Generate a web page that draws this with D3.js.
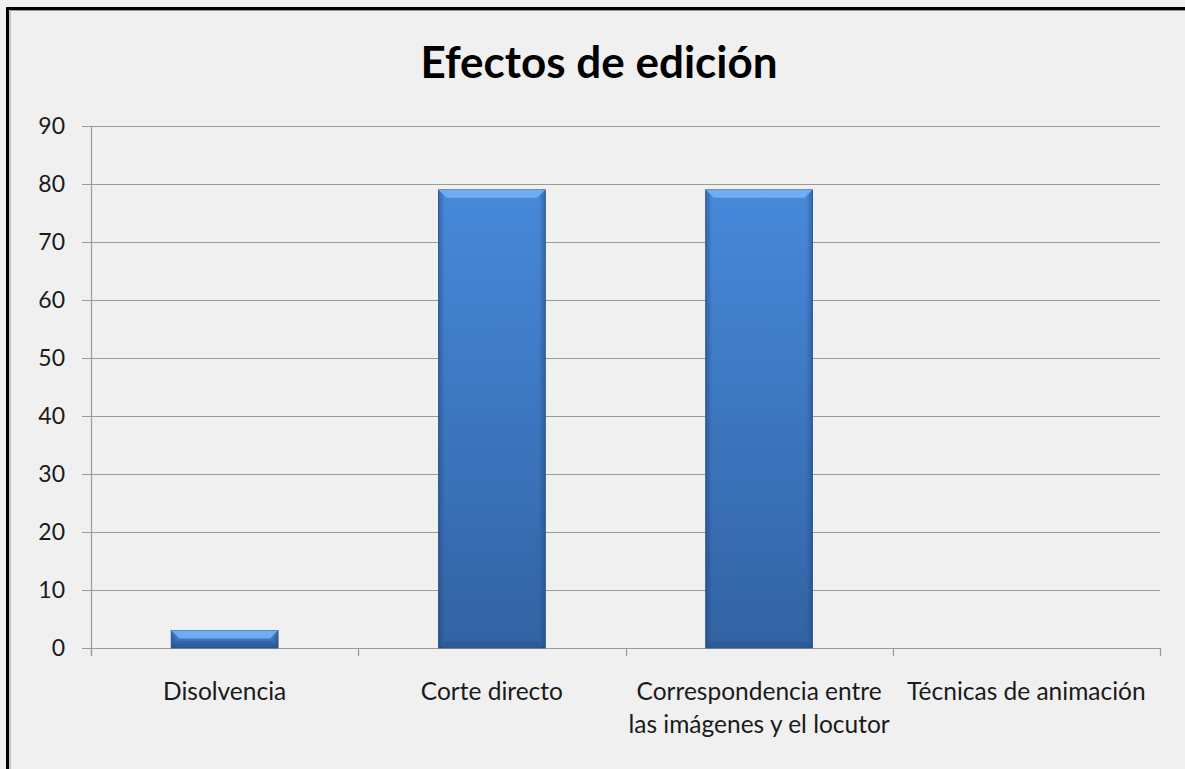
<!DOCTYPE html>
<html lang="es">
<head>
<meta charset="UTF-8">
<title>Efectos de edición</title>
<script src="https://d3js.org/d3.v7.min.js"></script>
<style>
  body {
    margin: 0;
    background: #f0f0f0;
    overflow: hidden;
  }
  svg text {
    font-family: Lato, "Open Sans", sans-serif;
    fill: #1a1a1a;
  }
</style>
</head>
<body>
<div id="chart"></div>
<script>
// ------ datos ------
const categories = [
  ["Disolvencia"],
  ["Corte directo"],
  ["Correspondencia entre", "las imágenes y el locutor"],
  ["Técnicas de animación"]
];
const values = [3, 79, 79, 0];
const yTicks = [0, 10, 20, 30, 40, 50, 60, 70, 80, 90];
const title = "Efectos de edición";

const width = 1185, height = 769;
const margin = {left: 91, right: 25, top: 126, bottom: 121};

const svg = d3.select("#chart").append("svg")
    .attr("width", width)
    .attr("height", height);

// marco
svg.append("rect")
    .attr("x", 7.5).attr("y", 8.5)
    .attr("width", width + 10).attr("height", height + 10)
    .attr("fill", "#f0f0f0")
    .attr("stroke", "#000")
    .attr("stroke-width", 3);
svg.append("path")
    .attr("d", `M10,${height} V10.5 H${width}`)
    .attr("fill", "none")
    .attr("stroke", "#999")
    .attr("stroke-width", 1);

// gradientes
const defs = svg.append("defs");
const g1 = defs.append("linearGradient").attr("id", "barFill")
    .attr("x1", 0).attr("y1", 0).attr("x2", 0).attr("y2", 1);
g1.append("stop").attr("offset", "0%").attr("stop-color", "#4789da");
g1.append("stop").attr("offset", "100%").attr("stop-color", "#3263a4");

const gSide = defs.append("linearGradient").attr("id", "sideShade")
    .attr("x1", 0).attr("y1", 0).attr("x2", 1).attr("y2", 0);
gSide.append("stop").attr("offset", "0%").attr("stop-color", "#1d3f70").attr("stop-opacity", 0.45);
gSide.append("stop").attr("offset", "6%").attr("stop-color", "#1d3f70").attr("stop-opacity", 0);
gSide.append("stop").attr("offset", "94%").attr("stop-color", "#1d3f70").attr("stop-opacity", 0);
gSide.append("stop").attr("offset", "100%").attr("stop-color", "#1d3f70").attr("stop-opacity", 0.45);

const x = d3.scaleBand()
    .domain(d3.range(categories.length))
    .range([margin.left, width - margin.right])
    .paddingInner(0.6)
    .paddingOuter(0.3);

const xEdge = d3.scaleLinear()
    .domain([0, categories.length])
    .range([margin.left, width - margin.right]);

const y = d3.scaleLinear()
    .domain([0, 90])
    .range([height - margin.bottom, margin.top]);

// cuadrícula
svg.append("g")
  .selectAll("line")
  .data(yTicks)
  .join("line")
    .attr("x1", margin.left - 9)
    .attr("x2", width - margin.right)
    .attr("y1", d => Math.round(y(d)) + 0.5)
    .attr("y2", d => Math.round(y(d)) + 0.5)
    .attr("stroke", "#9a9a9a")
    .attr("stroke-width", 1.2);

// eje y
svg.append("line")
    .attr("x1", margin.left + 0.5).attr("x2", margin.left + 0.5)
    .attr("y1", y(90)).attr("y2", y(0) + 8)
    .attr("stroke", "#9a9a9a").attr("stroke-width", 1.2);

svg.append("g")
  .selectAll("text")
  .data(yTicks)
  .join("text")
    .attr("x", margin.left - 26)
    .attr("y", d => y(d))
    .attr("dy", "0.36em")
    .attr("text-anchor", "end")
    .style("font-size", "23px")
    .text(d => d);

// marcas del eje x
svg.append("g")
  .selectAll("line")
  .data(d3.range(categories.length + 1))
  .join("line")
    .attr("x1", d => Math.round(xEdge(d)) + 0.5)
    .attr("x2", d => Math.round(xEdge(d)) + 0.5)
    .attr("y1", y(0))
    .attr("y2", y(0) + 8)
    .attr("stroke", "#9a9a9a").attr("stroke-width", 1.2);

// barras
const bars = svg.append("g")
  .selectAll("g")
  .data(values.map((v, i) => ({v, i})).filter(d => d.v > 0))
  .join("g");

bars.append("rect")
    .attr("x", d => x(d.i))
    .attr("y", d => y(d.v))
    .attr("width", x.bandwidth())
    .attr("height", d => y(0) - y(d.v))
    .attr("fill", "url(#barFill)")
    .attr("stroke", "#2b558e")
    .attr("stroke-width", 0.8);

bars.append("rect")
    .attr("x", d => x(d.i))
    .attr("y", d => y(d.v))
    .attr("width", x.bandwidth())
    .attr("height", d => y(0) - y(d.v))
    .attr("fill", "url(#sideShade)");

// bisel superior
bars.append("path")
    .attr("d", d => {
      const x0 = x(d.i), x1 = x0 + x.bandwidth(), t = y(d.v);
      const b = Math.min(8, (y(0) - t) / 2);
      return `M${x0},${t} H${x1} L${x1 - b},${t + b} H${x0 + b} Z`;
    })
    .attr("fill", "#74b0f4")
    .attr("opacity", 0.9);

// bisel inferior
bars.append("path")
    .attr("d", d => {
      const x0 = x(d.i), x1 = x0 + x.bandwidth(), bt = y(0), t = y(d.v);
      const b = Math.min(7, (bt - t) / 2);
      return `M${x0},${bt} H${x1} L${x1 - b},${bt - b} H${x0 + b} Z`;
    })
    .attr("fill", "#24497e")
    .attr("opacity", 0.3);

// etiquetas de categorías
svg.append("g")
  .selectAll("text")
  .data(categories)
  .join("text")
    .attr("x", (d, i) => x(i) + x.bandwidth() / 2)
    .attr("y", y(0) + 52)
    .attr("text-anchor", "middle")
    .style("font-size", "24.5px")
    .selectAll("tspan")
    .data(d => d)
    .join("tspan")
      .attr("x", function() { return this.parentNode.getAttribute("x"); })
      .attr("dy", (d, j) => j === 0 ? 0 : 33)
      .text(d => d);

// título
svg.append("text")
    .attr("x", 599)
    .attr("y", 78)
    .attr("text-anchor", "middle")
    .style("font-size", "44px")
    .style("font-weight", "bold")
    .style("fill", "#000")
    .text(title);
</script>
</body>
</html>
